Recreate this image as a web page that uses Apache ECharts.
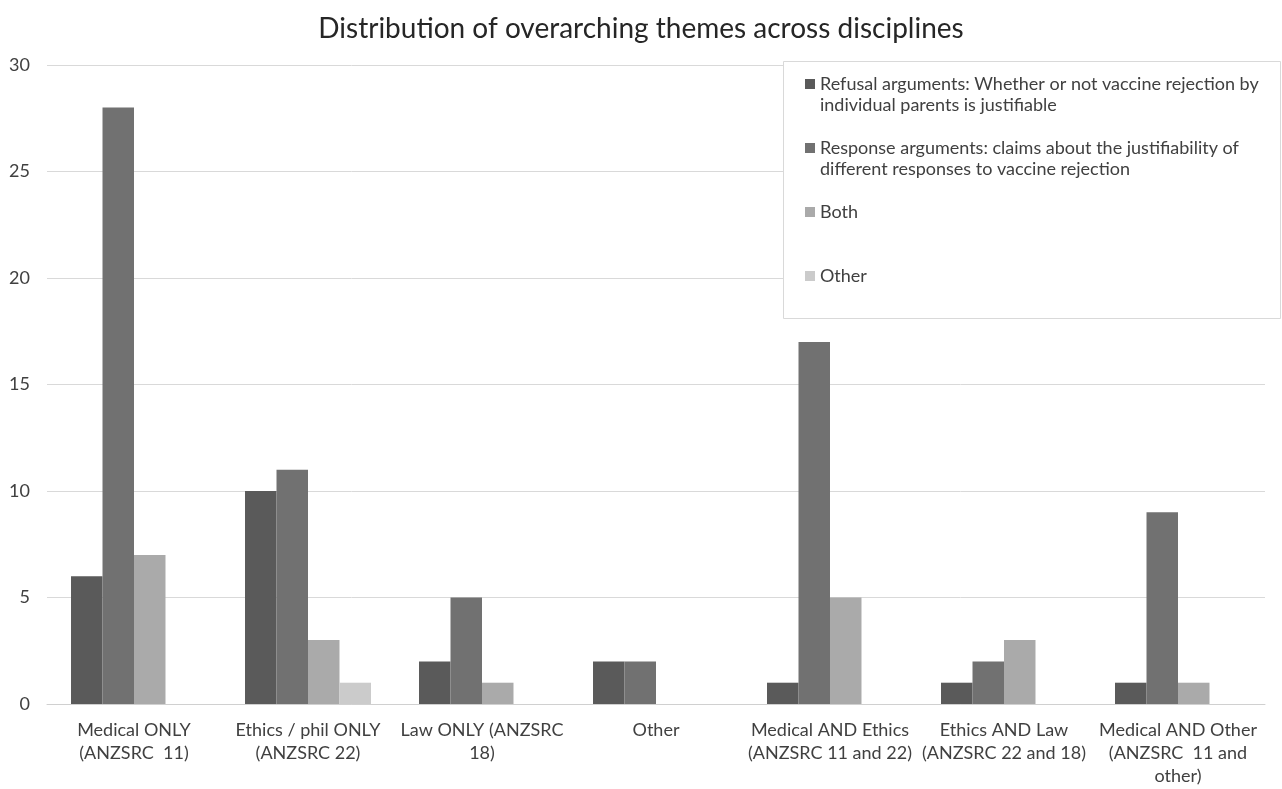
<!DOCTYPE html>
<html>
<head>
<meta charset="utf-8">
<script src="https://cdn.jsdelivr.net/npm/echarts@6/dist/echarts.min.js"></script>
<style>
html,body{margin:0;padding:0;background:#fff;}
#chart{width:1282px;height:789px;}
</style>
</head>
<body>
<div id="chart"></div>
<script>
const categories = [
  "Medical ONLY\n(ANZSRC  11)",
  "Ethics / phil ONLY\n(ANZSRC 22)",
  "Law ONLY (ANZSRC\n18)",
  "Other",
  "Medical AND Ethics\n(ANZSRC 11 and 22)",
  "Ethics AND Law\n(ANZSRC 22 and 18)",
  "Medical AND Other\n(ANZSRC  11 and\nother)"
];
const seriesNames = [
  "Refusal arguments: Whether or not vaccine rejection by individual parents is justifiable",
  "Response arguments: claims about the justifiability of different responses to vaccine rejection",
  "Both",
  "Other"
];
const legendLine1 = [
  "Refusal arguments: Whether or not vaccine rejection by",
  "Response arguments: claims about the justifiability of",
  "Both",
  "Other"
];
const legendLine2 = [
  "individual parents is justifiable",
  "different responses to vaccine rejection",
  "",
  ""
];
const refusal  = [6, 10, 2, 2, 1, 1, 1];
const response = [28, 11, 5, 2, 17, 2, 9];
const both     = [7, 3, 1, 0, 5, 3, 1];
const other    = [0, 1, 0, 0, 0, 0, 0];
const yTicks = [0, 5, 10, 15, 20, 25, 30];

const colors = ["#5a5a5a", "#717171", "#aaaaaa", "#cbcbcb"];
const values = [refusal, response, both, other];
const FONT = "Lato, 'Open Sans', sans-serif";

const chart = echarts.init(document.getElementById('chart'), null, {renderer: 'canvas'});

const legendCenters = [83, 147, 211, 275];
const legends = seriesNames.map((n, i) => ({
  data: [n],
  left: 800,
  top: legendCenters[i] - 13,
  orient: 'vertical',
  itemWidth: 10,
  itemHeight: 10,
  icon: 'rect',
  selectedMode: false,
  z: 6,
  formatter: () => legendLine1[i],
  textStyle: {fontFamily: FONT, fontSize: 18, color: '#404040'}
}));

const graphics = [
  {type: 'rect', left: 783, top: 61, z: 3,
   shape: {width: 497, height: 257},
   style: {fill: '#fff', stroke: '#d9d9d9', lineWidth: 1}}
];
legendLine2.forEach((t, i) => {
  if (t) graphics.push({
    type: 'text', left: 820, top: legendCenters[i] + 23 - 10, z: 6,
    style: {text: t, font: "18px " + FONT, fill: '#404040'}
  });
});

chart.setOption({
  animation: false,
  color: colors,
  title: {
    text: 'Distribution of overarching themes across disciplines',
    left: 'center',
    top: 10,
    textStyle: {fontFamily: FONT, fontSize: 28, fontWeight: 'normal', color: '#262626'}
  },
  legend: legends,
  graphic: graphics,
  grid: {left: 47, right: 17, top: 65, bottom: 85},
  xAxis: {
    type: 'category',
    data: categories,
    axisTick: {show: false},
    axisLine: {lineStyle: {color: '#d0d0d0', width: 1}},
    axisLabel: {
      interval: 0, margin: 15, lineHeight: 23,
      fontFamily: FONT, fontSize: 18, color: '#404040'
    }
  },
  yAxis: {
    type: 'value',
    min: yTicks[0],
    max: yTicks[yTicks.length - 1],
    interval: 5,
    axisLine: {show: false},
    axisTick: {show: false},
    splitLine: {lineStyle: {color: '#d9d9d9', width: 1}},
    axisLabel: {margin: 17, fontFamily: FONT, fontSize: 18, color: '#404040'}
  },
  series: seriesNames.map((n, i) => ({
    name: n,
    type: 'bar',
    data: values[i],
    barGap: '0%',
    barCategoryGap: '27.6%',
    itemStyle: {color: colors[i]}
  }))
});
</script>
</body>
</html>
